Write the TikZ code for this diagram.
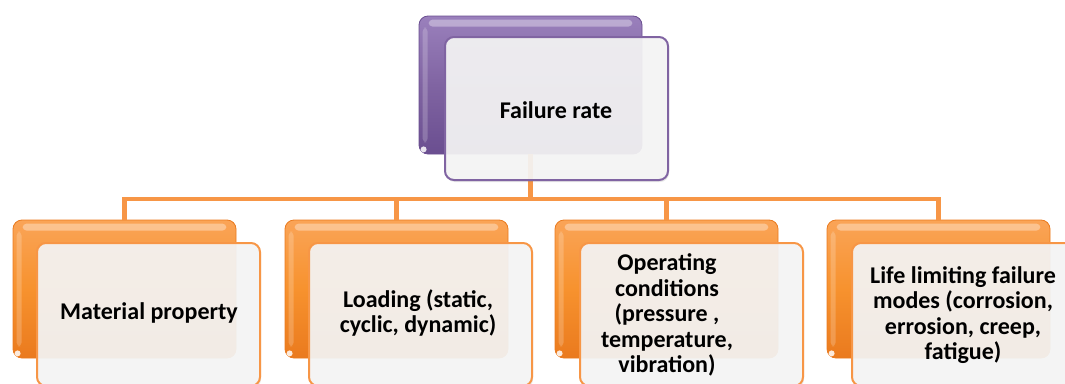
\documentclass[tikz,border=0pt]{standalone}
\usepackage{fontspec}
\setmainfont{Carlito}
\usetikzlibrary{shadows}

\definecolor{orangeMain}{HTML}{F7922E}
\definecolor{orangeTop}{HTML}{FAA457}
\definecolor{orangeDark}{HTML}{EA7A1E}
\definecolor{orangeLine}{HTML}{F79646}
\definecolor{purpleMain}{HTML}{8064A2}
\definecolor{purpleTop}{HTML}{9A80BC}
\definecolor{purpleDark}{HTML}{6A4E90}
\definecolor{frontFill}{HTML}{F5F5F5}

\tikzset{
  backbox/.style={minimum width=223pt, minimum height=138pt, rounded corners=9pt,
    inner sep=0pt, draw=#1Dark, line width=0.8pt,
    top color=#1Top, bottom color=#1Dark, middle color=#1Main},
  frontbox/.style={minimum width=223pt, minimum height=143pt, rounded corners=9pt,
    inner sep=0pt, draw=#1, line width=2pt, fill=frontFill, fill opacity=0.92,
    drop shadow={opacity=0.2, shadow xshift=1pt, shadow yshift=-2pt}},
  label/.style={font=\bfseries\fontsize{24}{25.5}\selectfont, text=black, align=center},
  link/.style={draw=orangeLine, line width=4.5pt},
}

\begin{document}
\begin{tikzpicture}[x=1pt, y=-1pt]
\useasboundingbox (0,0) rectangle (1065,383);

% back (solid) boxes
\node[backbox=purple] (top) at (530.5,85) {};
\node[backbox=orange] (b1) at (124.5,289) {};
\node[backbox=orange] (b2) at (396.5,289) {};
\node[backbox=orange] (b3) at (666.5,289) {};
\node[backbox=orange] (b4) at (938.5,289) {};

% glossy highlights on the back boxes
\foreach \n in {top,b1,b2,b3,b4}{
  \fill[white, opacity=0.35, rounded corners=4pt]
    ([xshift=10pt, yshift=-4pt]\n.north west) rectangle ([xshift=-10pt, yshift=-11pt]\n.north east);
  \fill[white, opacity=0.2, rounded corners=4pt]
    ([xshift=4pt, yshift=-12pt]\n.north west) rectangle ([xshift=9pt, yshift=12pt]\n.south west);
  \fill[white, opacity=0.85]
    ([xshift=5pt, yshift=5pt]\n.south west) circle (3pt);
}

% connectors
\draw[link] (top.south) -- ++(0,44.5) coordinate (bus);
\draw[link] (bus) -| (b1.north);
\draw[link] (bus) -| (b2.north);
\draw[link] (bus) -| (b3.north);
\draw[link] (bus) -| (b4.north);

% front (translucent) boxes
\node[frontbox=purpleMain] (ftop) at (556.5,108.5) {};
\node[frontbox=orangeLine] (f1) at (148.5,314.5) {};
\node[frontbox=orangeLine] (f2) at (420.5,314.5) {};
\node[frontbox=orangeLine] (f3) at (691.5,314.5) {};
\node[frontbox=orangeLine] (f4) at (963.5,314.5) {};

% texts
\node[label] (t0) at (556,110) {Failure rate};
\node[label] (t1) at (149,313) {Material property};
\node[label] (t2) at (418,313) {Loading (static,\\ cyclic, dynamic)};
\node[label] (t3) at (667,315) {Operating\\ conditions\\ (pressure ,\\ temperature,\\ vibration)};
\node[label] (t4) at (963,315) {Life limiting failure\\ modes (corrosion,\\ errosion, creep,\\ fatigue)};
\end{tikzpicture}
\end{document}
